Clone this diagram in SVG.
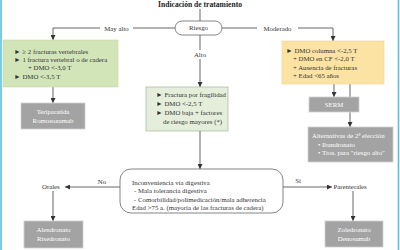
<svg xmlns="http://www.w3.org/2000/svg" width="400" height="250" viewBox="0 0 400 250">
<style>
text{font-family:"Liberation Serif","DejaVu Serif",serif;fill:#333;font-size:6.8px}
.t{font-weight:bold;font-size:7.6px;fill:#222}
.c{text-anchor:middle}
.w{fill:#fff}
.ln{fill:none;stroke:#555;stroke-width:0.9}
.g1{fill:#d2e5b9;stroke:#c2d9a4;stroke-width:0.6}
.g2{fill:#e4eedb;stroke:#9aab8e;stroke-width:0.6}
.y{fill:#fde3a3;stroke:#f3d48a;stroke-width:0.6}
.gr{fill:#a3a3a3;stroke:#cfcfcf;stroke-width:0.8}
.rb{fill:#fff;stroke:#666;stroke-width:0.8}
</style>
<defs>
<marker id="ah" viewBox="0 0 6 6" refX="6" refY="3" markerWidth="5" markerHeight="5" markerUnits="userSpaceOnUse" orient="auto">
<path d="M0,0 L6,3 L0,6 z" fill="#333"/>
</marker>
</defs>
<rect x="0" y="0" width="400" height="250" fill="#fff"/>
<line x1="1" y1="0" x2="1" y2="250" stroke="#5bbfdc" stroke-width="1.6"/>
<line x1="398.5" y1="0" x2="398.5" y2="250" stroke="#5bbfdc" stroke-width="1.6"/>
<text class="t c" x="200" y="7">Indicación de tratamiento</text>
<g id="connectors">
<line class="ln" x1="200" y1="9" x2="200" y2="21"/>
<path class="ln" d="M175,28 H133"/>
<path class="ln" d="M100,28 H53 V40" marker-end="url(#ah)"/>
<path class="ln" d="M222,28 H257"/>
<path class="ln" d="M298,28 H333 V41" marker-end="url(#ah)"/>
<line class="ln" x1="200" y1="35" x2="200" y2="50"/>
<line class="ln" x1="200" y1="59" x2="200" y2="87" marker-end="url(#ah)"/>
<line class="ln" x1="53" y1="87" x2="53" y2="103" marker-end="url(#ah)"/>
<line class="ln" x1="334" y1="84" x2="334" y2="97" marker-end="url(#ah)"/>
<line class="ln" x1="350" y1="84" x2="350" y2="97" stroke-width="0.6"/>
<line class="ln" x1="350" y1="112" x2="350" y2="127" marker-end="url(#ah)"/>
<line class="ln" x1="200" y1="131" x2="200" y2="169" marker-end="url(#ah)"/>
<line class="ln" x1="120" y1="187" x2="65" y2="187" marker-end="url(#ah)"/>
<line class="ln" x1="283" y1="187" x2="332" y2="187" marker-end="url(#ah)"/>
<line class="ln" x1="53" y1="191" x2="53" y2="221" marker-end="url(#ah)"/>
<line class="ln" x1="353" y1="191" x2="353" y2="221" marker-end="url(#ah)"/>
<text class="c" x="116.5" y="30.5">May alto</text>
<text class="c" x="277.5" y="30.5">Moderado</text>
<text class="c" x="200" y="57">Alto</text>
<text class="c" x="102" y="184">No</text>
<text class="c" x="298" y="183">Sí</text>
</g>
<g id="riesgo">
<rect class="rb" x="175" y="21" width="47" height="14" rx="7"/>
<text class="c" x="198.5" y="30.3">Riesgo</text>
</g>
<g id="muyalto">
<rect class="g1" x="3" y="40" width="115" height="47"/>
<text x="14" y="53.5">► ≥ 2 fracturas vertebrales</text>
<text x="14" y="62">► 1 fractura vertebral o de cadera</text>
<text x="28" y="69.5">+ DMO &lt;-3,0 T</text>
<text x="14" y="79">► DMO &lt;-3,5 T</text>
</g>
<g id="teriparatida">
<rect class="gr" x="21" y="103" width="64" height="26"/>
<text class="c w" x="53" y="114">Teriparatida</text>
<text class="c w" x="53" y="122.5">Romosozumab</text>
</g>
<g id="altobox">
<rect class="g2" x="146" y="87" width="82" height="44"/>
<text x="156" y="96.5">► Fractura por fragilidad</text>
<text x="156" y="105.5">► DMO &lt;-2,5 T</text>
<text x="156" y="115">► DMO baja + factores</text>
<text x="163" y="124">de riesgo mayores (*)</text>
</g>
<g id="moderado">
<rect class="y" x="282" y="41" width="102" height="43"/>
<text x="286" y="52.5">► DMO columna &lt;-2,5 T</text>
<text x="293" y="61">+ DMO en CF &lt;-2,0 T</text>
<text x="293" y="69.5">+ Ausencia de fracturas</text>
<text x="293" y="78">+ Edad &lt;65 años</text>
</g>
<g id="serm">
<rect class="gr" x="309" y="97" width="50" height="15"/>
<text class="c w" x="334" y="106.8">SERM</text>
</g>
<g id="alternativas">
<rect class="gr" x="308" y="127" width="85" height="35"/>
<text class="w" x="312" y="138">Alternativas de 2ª elección</text>
<text class="w" x="318" y="146.5">• Ibandronato</text>
<text class="w" x="318" y="155">• Ttos. para "riesgo alto"</text>
</g>
<g id="inconveniencia">
<rect class="rb" x="120" y="169" width="163" height="44" rx="11"/>
<text x="132" y="184.5">Inconveniencia vía digestiva</text>
<text x="134" y="193">- Mala tolerancia digestiva</text>
<text x="134" y="201.5">- Comorbilidad/polimedicación/mala adherencia</text>
<text x="132" y="210">Edad &gt;75 a. (mayoría de las fracturas de cadera)</text>
</g>
<g id="orales">
<text x="42" y="189.3">Orales</text>
</g>
<g id="parenterales">
<text x="333.5" y="189.3">Parenterales</text>
</g>
<g id="alendronato">
<rect class="gr" x="24" y="221" width="59" height="27"/>
<text class="c w" x="53.5" y="232">Alendronato</text>
<text class="c w" x="53.5" y="240.5">Risedronato</text>
</g>
<g id="zoledronato">
<rect class="gr" x="325" y="221" width="58" height="26"/>
<text class="c w" x="354" y="232">Zoledronato</text>
<text class="c w" x="354" y="240.5">Denosumab</text>
</g>
</svg>
